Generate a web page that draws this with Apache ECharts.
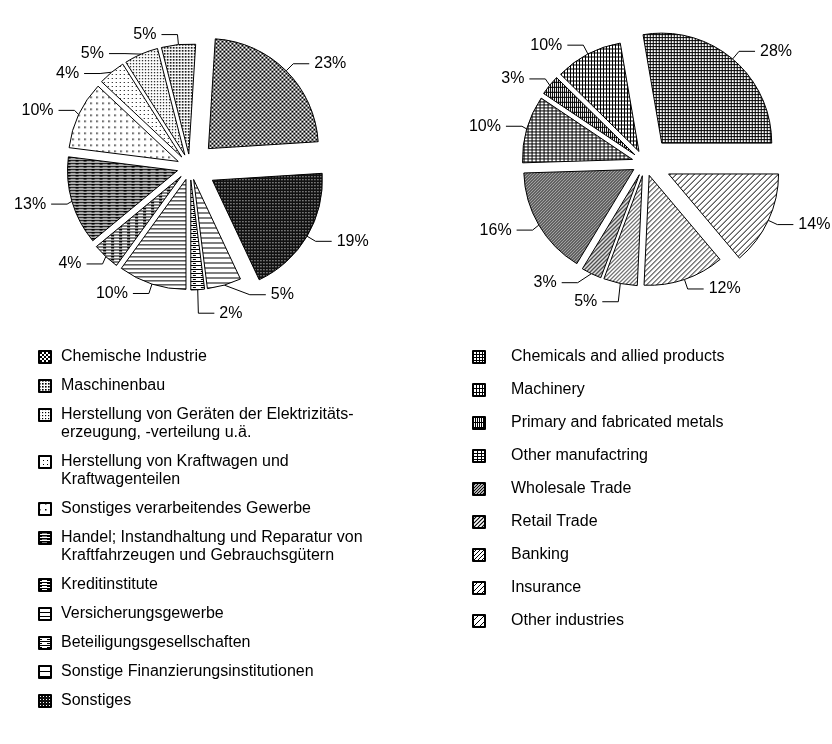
<!DOCTYPE html>
<html>
<head>
<meta charset="utf-8">
<script src="https://cdn.jsdelivr.net/npm/echarts@6/dist/echarts.min.js"></script>
<style>
  html, body { margin: 0; padding: 0; background: #fff; }
  #chart { width: 832px; height: 744px; }
</style>
</head>
<body>
<div id="chart"></div>
<script>
// left pie (German), legend order
const leftNames = [
    'Chemische Industrie',
    'Maschinenbau',
    'Herstellung von Geräten der Elektrizitäts-\nerzeugung, -verteilung u.ä.',
    'Herstellung von Kraftwagen und\nKraftwagenteilen',
    'Sonstiges verarbeitendes Gewerbe',
    'Handel; Instandhaltung und Reparatur von\nKraftfahrzeugen und Gebrauchsgütern',
    'Kreditinstitute',
    'Versicherungsgewerbe',
    'Beteiligungsgesellschaften',
    'Sonstige Finanzierungsinstitutionen',
    'Sonstiges',
];
const leftValues = [23, 5, 5, 4, 10, 13, 4, 10, 2, 5, 19];

// right pie (English), legend order
const rightNames = [
    'Chemicals and allied products',
    'Machinery',
    'Primary and fabricated metals',
    'Other manufactring',
    'Wholesale Trade',
    'Retail Trade',
    'Banking',
    'Insurance',
    'Other industries',
];
const rightValues = [28, 10, 3, 10, 16, 3, 5, 12, 14];

// slices pulled further out
const leftBig = ['Chemische Industrie', 'Sonstiges'];
const rightBig = ['Chemicals and allied products', 'Other industries'];

const FONT = '"Liberation Sans", Arial, Helvetica, sans-serif';

// hatch fills
function tile(w, h, draw, bg) {
    const c = document.createElement('canvas');
    c.width = w;
    c.height = h;
    const g = c.getContext('2d');
    g.fillStyle = bg || '#fff';
    g.fillRect(0, 0, w, h);
    g.fillStyle = '#000';
    g.strokeStyle = '#000';
    draw(g, w, h);
    return { image: c, repeat: 'repeat' };
}
const dots = (s, r) => tile(s, s, g => g.fillRect(0, 0, r, r));
const hlines = (s, lw, dash) => tile(8, s, g => {
    g.fillRect(0, 0, 8, lw);
    if (dash) g.fillRect(0, Math.floor(s / 2), 3, 1);
});
const grid = (sx, sy) => tile(sx, sy, g => {
    g.fillRect(0, 0, 1, sy);
    g.fillRect(0, 0, sx, 1);
});
const diag = (s, lw) => tile(s, s, g => {
    g.lineWidth = lw;
    g.beginPath();
    g.moveTo(-1, s + 1); g.lineTo(s + 1, -1);
    g.moveTo(-1, 1); g.lineTo(1, -1);
    g.moveTo(s - 1, s + 1); g.lineTo(s + 1, s - 1);
    g.stroke();
});
const cross = s => tile(s, s, g => {
    g.lineWidth = 1;
    g.beginPath();
    g.moveTo(0, 0); g.lineTo(s, s);
    g.moveTo(0, s); g.lineTo(s, 0);
    g.stroke();
});
const speckle = () => tile(3, 3, g => {
    g.fillStyle = '#fff';
    g.fillRect(1, 1, 1, 1);
}, '#111');

const leftFills = [
    cross(4), dots(3, 1.6), dots(3, 1.2), dots(4, 1), dots(6, 1.5),
    hlines(3, 1.5, true), hlines(3, 1, true), hlines(4, 1), hlines(4, 1, true), hlines(5, 1),
    speckle(),
];
const rightFills = [
    grid(3, 3), grid(3, 4), grid(2, 5), grid(4, 3),
    diag(3, 1.2), diag(4, 1.2), diag(4, 1), diag(5, 1), diag(6, 1),
];

const hidden = {
    itemStyle: { color: 'rgba(0,0,0,0)', borderWidth: 0 },
    label: { show: false },
    labelLine: { show: false },
};

function pieSeries(names, values, fills, bigNames, center, startAngle, wantBig) {
    return {
        type: 'pie',
        center: center,
        radius: 110,
        clockwise: false,
        startAngle: startAngle,
        selectedMode: 'multiple',
        selectedOffset: wantBig ? 26 : 13,
        avoidLabelOverlap: true,
        emphasis: { disabled: true },
        label: {
            show: true,
            position: 'outside',
            formatter: '{c}%',
            color: '#000',
            fontSize: 16,
            fontFamily: FONT,
        },
        labelLine: {
            show: true,
            length: 10,
            length2: 16,
            lineStyle: { color: '#000', width: 1 },
        },
        itemStyle: { borderColor: '#000', borderWidth: 1 },
        data: names.map((n, i) => {
            const show = bigNames.includes(n) === wantBig;
            const item = { name: show ? n : '\u200b' + n, value: values[i], selected: true };
            if (show) item.itemStyle = { color: fills[i] };
            else Object.assign(item, hidden);
            return item;
        }),
    };
}

// square at the top of a taller box, so a two-line name starts level with it
const tallIcon = 'path://M0,0H12V12H0Z M0,30';

function legendColumn(names, iconLeft, textPad, firstCenter, step) {
    const out = [];
    let c = firstCenter;
    names.forEach(n => {
        const lines = n.split('\n').length;
        out.push({
            left: iconLeft,
            top: c - 9,
            orient: 'vertical',
            padding: 0,
            itemWidth: 12,
            itemHeight: lines > 1 ? 30 : 12,
            icon: lines > 1 ? tallIcon : 'rect',
            selectedMode: false,
            data: [n],
            textStyle: {
                fontSize: 16,
                lineHeight: 18,
                color: '#000',
                fontFamily: FONT,
                padding: [0, 0, 0, textPad],
            },
        });
        c += step(lines);
    });
    return out;
}

const chart = echarts.init(document.getElementById('chart'), null, { renderer: 'canvas' });
chart.setOption({
    animation: false,
    backgroundColor: '#fff',
    legend: [
        ...legendColumn(leftNames, 38, 5, 357, lines => lines * 18 + 11),
        ...legendColumn(rightNames, 472, 21, 357, () => 33),
    ],
    series: [
        pieSeries(leftNames, leftValues, leftFills, leftBig, [190, 167], 3.6, false),
        pieSeries(leftNames, leftValues, leftFills, leftBig, [190, 167], 3.6, true),
        pieSeries(rightNames, rightValues, rightFills, rightBig, [645, 163], 0, false),
        pieSeries(rightNames, rightValues, rightFills, rightBig, [645, 163], 0, true),
    ],
});
</script>
</body>
</html>
